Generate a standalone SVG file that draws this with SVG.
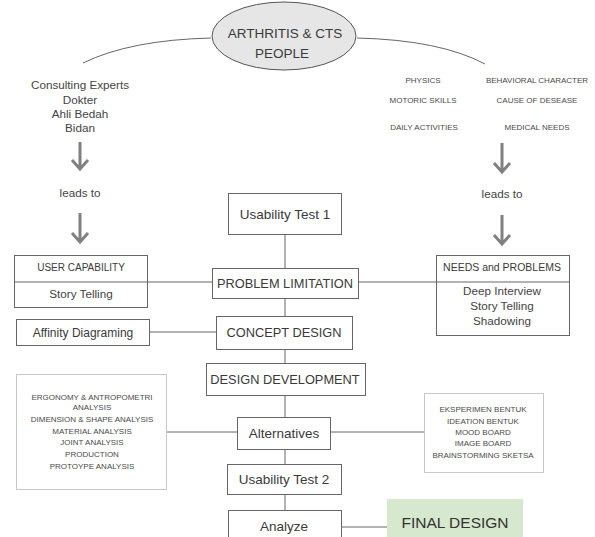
<svg xmlns="http://www.w3.org/2000/svg" width="595" height="537" viewBox="0 0 595 537">
<style>
text{font-family:"Liberation Sans",Arial,sans-serif;fill:#3a3a3a;text-anchor:middle}
.box{fill:#fff;stroke:#666;stroke-width:1}
.lbox{fill:#fff;stroke:#c8c8c8;stroke-width:1}
.ln{fill:none;stroke:#666;stroke-width:1}
.arr{fill:none;stroke:#808080;stroke-width:3}
.cap{font-size:12.8px}
.mid{font-size:13.5px}
.sm{font-size:11.7px;fill:#444}
.xs{font-size:8px;fill:#4a4a4a}
</style>
<rect width="595" height="537" fill="#fff"/>
<g id="connectors">
<path class="ln" d="M211 38 Q130 40 83 63"/>
<path class="ln" d="M357 38 Q440 40 485 64"/>
<path class="arr" d="M80 142V169M72 160L80 169L88 160"/>
<path class="arr" d="M80 213V242M72 233L80 242L88 233"/>
<path class="arr" d="M502 143V172M494 163L502 172L510 163"/>
<path class="arr" d="M502 215V244M494 235L502 244L510 235"/>
<path class="ln" d="M285 234V268M285 298V316M285 349V363M285 395V417M285 449V464M285 494V510"/>
<path class="ln" d="M147 282H212M358 282H436M149 332H216M166 432H237M330 432H424M341 527H387"/>
</g>
<g id="people">
<ellipse cx="284" cy="36" rx="72" ry="34" fill="#e6e6e6" stroke="#555" stroke-width="1"/>
<text x="285" y="38" style="font-size:13.5px">ARTHRITIS &amp; CTS</text>
<text x="282" y="58" style="font-size:13.5px">PEOPLE</text>
</g>
<g id="experts">
<text class="sm" x="80" y="89">Consulting Experts</text>
<text class="sm" x="80" y="104">Dokter</text>
<text class="sm" x="80" y="118">Ahli Bedah</text>
<text class="sm" x="80" y="132">Bidan</text>
</g>
<g id="leads-left"><text class="sm" x="80" y="197">leads to</text></g>
<g id="leads-right"><text class="sm" x="502" y="198">leads to</text></g>
<g id="aspects">
<text class="xs" x="423" y="83">PHYSICS</text>
<text class="xs" x="537" y="83">BEHAVIORAL CHARACTER</text>
<text class="xs" x="423" y="103">MOTORIC SKILLS</text>
<text class="xs" x="537" y="103">CAUSE OF DESEASE</text>
<text class="xs" x="424" y="130">DAILY ACTIVITIES</text>
<text class="xs" x="537" y="130">MEDICAL NEEDS</text>
</g>
<g id="usability1">
<rect class="box" x="228.5" y="193.5" width="113" height="41"/>
<text class="mid" x="285" y="219">Usability Test 1</text>
</g>
<g id="user-capability">
<rect class="box" x="14.5" y="255.5" width="133" height="52"/>
<line class="ln" x1="14.5" y1="282" x2="147.5" y2="282"/>
<text style="font-size:10px" x="81" y="271">USER CAPABILITY</text>
<text class="sm" x="81" y="298">Story Telling</text>
</g>
<g id="problem-limitation">
<rect class="box" x="212.5" y="268.5" width="146" height="30"/>
<text class="cap" x="285" y="288">PROBLEM LIMITATION</text>
</g>
<g id="needs">
<rect class="box" x="436.5" y="255.5" width="133" height="80"/>
<line class="ln" x1="436.5" y1="282" x2="569.5" y2="282"/>
<text style="font-size:10.5px" x="502" y="271">NEEDS and PROBLEMS</text>
<text class="sm" x="502" y="295">Deep Interview</text>
<text class="sm" x="502" y="310">Story Telling</text>
<text class="sm" x="502" y="325">Shadowing</text>
</g>
<g id="affinity">
<rect class="box" x="16.5" y="319.5" width="133" height="26"/>
<text style="font-size:12px" x="83" y="337">Affinity Diagraming</text>
</g>
<g id="concept-design">
<rect class="box" x="216.5" y="316.5" width="136" height="33"/>
<text class="cap" x="284" y="337">CONCEPT DESIGN</text>
</g>
<g id="design-development">
<rect class="box" x="206.5" y="363.5" width="159" height="32"/>
<text class="cap" x="285" y="384">DESIGN DEVELOPMENT</text>
</g>
<g id="analysis-list">
<rect class="lbox" x="16.5" y="374.5" width="150" height="115"/>
<text class="xs" x="92" y="400">ERGONOMY &amp; ANTROPOMETRI</text>
<text class="xs" x="92" y="410">ANALYSIS</text>
<text class="xs" x="92" y="422">DIMENSION &amp; SHAPE ANALYSIS</text>
<text class="xs" x="92" y="434">MATERIAL ANALYSIS</text>
<text class="xs" x="92" y="445">JOINT ANALYSIS</text>
<text class="xs" x="92" y="457">PRODUCTION</text>
<text class="xs" x="92" y="469">PROTOYPE  ANALYSIS</text>
</g>
<g id="alternatives">
<rect class="box" x="237.5" y="417.5" width="93" height="32"/>
<text class="mid" x="284" y="438">Alternatives</text>
</g>
<g id="ideation-list">
<rect class="lbox" x="424.5" y="393.5" width="119" height="79"/>
<text class="xs" x="483" y="412">EKSPERIMEN BENTUK</text>
<text class="xs" x="483" y="424">IDEATION BENTUK</text>
<text class="xs" x="483" y="435">MOOD BOARD</text>
<text class="xs" x="483" y="446">IMAGE BOARD</text>
<text class="xs" x="483" y="458">BRAINSTORMING SKETSA</text>
</g>
<g id="usability2">
<rect class="box" x="227.5" y="464.5" width="114" height="30"/>
<text class="mid" x="284" y="484">Usability Test 2</text>
</g>
<g id="analyze">
<rect class="box" x="228.5" y="510.5" width="113" height="30"/>
<text class="mid" x="284" y="531">Analyze</text>
</g>
<g id="final-design">
<rect x="387" y="499" width="136" height="38" fill="#d6e8cd"/>
<text x="455" y="528" style="font-size:15.5px;fill:#333">FINAL DESIGN</text>
</g>
</svg>
